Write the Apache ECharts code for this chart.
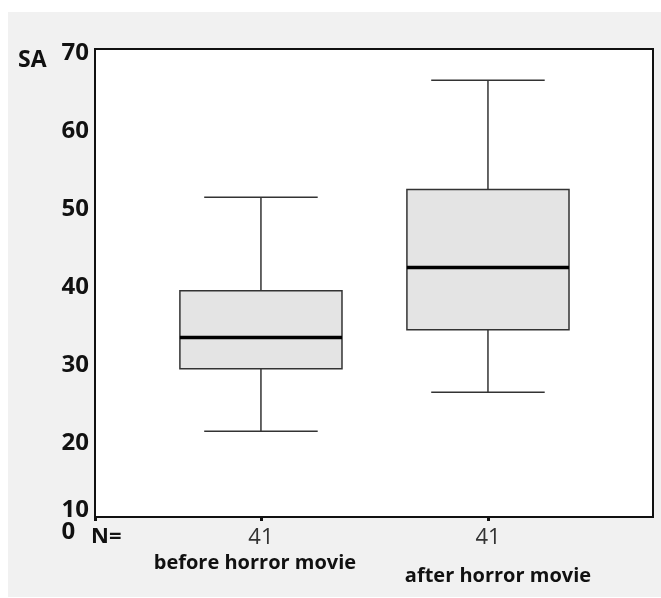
<!DOCTYPE html>
<html>
<head>
<meta charset="utf-8">
<script src="https://cdn.jsdelivr.net/npm/echarts@6/dist/echarts.min.js"></script>
<style>
  html, body { margin: 0; padding: 0; background: #ffffff; }
  #chart { width: 661px; height: 598px; }
</style>
</head>
<body>
<div id="chart"></div>
<script>
// groups on the x axis
const categories = ["before horror movie", "after horror movie"];
const counts = [41, 41];
// box plot statistics for SA
const lows = [21, 26];
const q1s = [29, 34];
const medians = [33, 42];
const q3s = [39, 52];
const highs = [51, 66];

const boxData = categories.map((c, i) => [i, lows[i], q1s[i], medians[i], q3s[i], highs[i]]);

const chart = echarts.init(document.getElementById("chart"));

const FONT = "Open Sans";

const renderBox = (params, api) => {
  const x = api.value(0);
  const pLow = api.coord([x, api.value(1)]);
  const pQ1 = api.coord([x, api.value(2)]);
  const pMed = api.coord([x, api.value(3)]);
  const pQ3 = api.coord([x, api.value(4)]);
  const pHigh = api.coord([x, api.value(5)]);
  const boxW = api.size([0.714, 0])[0];
  const capW = api.size([0.5, 0])[0];
  const cx = pMed[0];
  const line = { stroke: "#333", lineWidth: 1.5 };
  return {
    type: "group",
    children: [
      { type: "line", shape: { x1: cx, y1: pHigh[1], x2: cx, y2: pQ3[1] }, style: line },
      { type: "line", shape: { x1: cx, y1: pQ1[1], x2: cx, y2: pLow[1] }, style: line },
      { type: "line", shape: { x1: cx - capW / 2, y1: pHigh[1], x2: cx + capW / 2, y2: pHigh[1] }, style: line },
      { type: "line", shape: { x1: cx - capW / 2, y1: pLow[1], x2: cx + capW / 2, y2: pLow[1] }, style: line },
      {
        type: "rect",
        shape: { x: cx - boxW / 2, y: pQ3[1], width: boxW, height: pQ1[1] - pQ3[1] },
        style: { fill: "#e4e4e4", stroke: "#333", lineWidth: 1.5 },
      },
      {
        type: "line",
        shape: { x1: cx - boxW / 2, y1: pMed[1], x2: cx + boxW / 2, y2: pMed[1] },
        style: { stroke: "#000", lineWidth: 3.5 },
      },
    ],
  };
};

const options = {
  backgroundColor: "#ffffff",
  animation: false,
  graphic: [
    {
      type: "rect",
      left: 8,
      top: 12,
      shape: { width: 653, height: 585 },
      style: { fill: "#f1f1f1" },
      z: -10,
    },
    {
      type: "text",
      left: 18,
      top: 49,
      style: { text: "SA", font: "bold 23px '" + FONT + "'", fill: "#111" },
    },
    {
      type: "text",
      left: 91,
      top: 526,
      style: { text: "N=", font: "bold 22px '" + FONT + "'", fill: "#111" },
    },
  ],
  grid: {
    left: 95,
    top: 49,
    right: 8,
    bottom: 81,
    show: true,
    backgroundColor: "#ffffff",
    borderColor: "#111",
    borderWidth: 2,
    z: 1,
  },
  xAxis: {
    type: "value",
    min: -0.731,
    max: 1.727,
    splitLine: { show: false },
    axisLine: { show: true, lineStyle: { color: "#111", width: 2 } },
    axisTick: {
      show: true,
      customValues: [-0.731, 0, 1],
      length: 4,
      lineStyle: { color: "#111", width: 3 },
    },
    axisLabel: {
      customValues: [0, 1],
      margin: 8,
      formatter: (v) => "{n|" + counts[v] + "}\n{c" + v + "|" + categories[v] + "}",
      rich: {
        n: { fontFamily: FONT, fontSize: 22, color: "#333", lineHeight: 26 },
        c0: { fontFamily: FONT, fontSize: 20, fontWeight: "bold", color: "#111", lineHeight: 24, padding: [0, 12, 0, 0] },
        c1: { fontFamily: FONT, fontSize: 20, fontWeight: "bold", color: "#111", lineHeight: 24, padding: [26, 0, 0, 20] },
      },
    },
  },
  yAxis: {
    type: "value",
    min: 10,
    max: 70,
    interval: 10,
    splitLine: { show: false },
    axisLine: { show: true, lineStyle: { color: "#111", width: 2 } },
    axisTick: { show: true, length: 3, lineStyle: { color: "#111", width: 2 } },
    axisLabel: {
      margin: 6,
      padding: [8, 0, 0, 0],
      fontFamily: FONT,
      fontSize: 24,
      fontWeight: "bold",
      color: "#111",
      formatter: (v) => (v === 10 ? "{a|10}\n{b|0}" : String(v)),
      rich: {
        a: { fontFamily: FONT, fontSize: 24, fontWeight: "bold", color: "#111", lineHeight: 22 },
        b: { fontFamily: FONT, fontSize: 24, fontWeight: "bold", color: "#111", lineHeight: 22, width: 27, align: "left" },
      },
    },
  },
  series: [
    {
      type: "custom",
      renderItem: renderBox,
      encode: { x: 0, y: [1, 2, 3, 4, 5] },
      data: boxData,
      z: 5,
    },
  ],
};

options && chart.setOption(options);
</script>
</body>
</html>
